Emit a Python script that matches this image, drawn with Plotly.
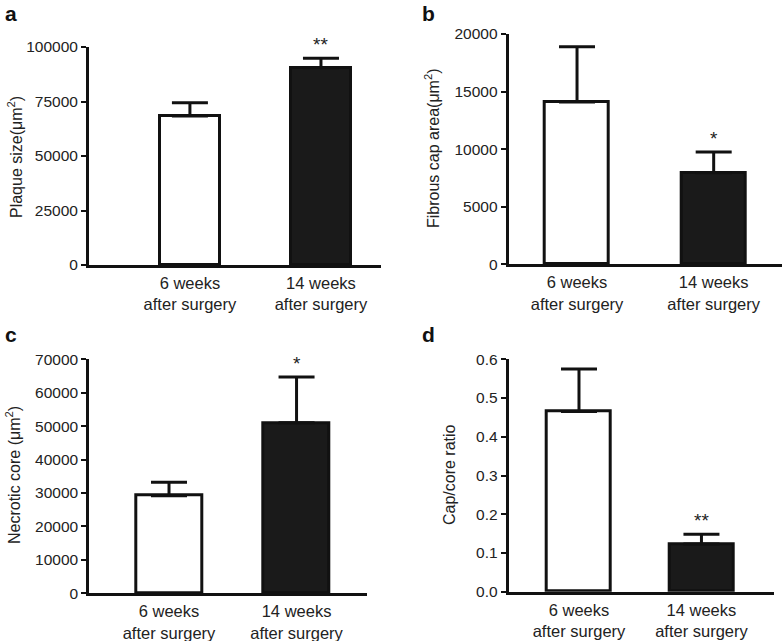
import plotly.graph_objects as go

categories = ["6 weeks<br>after surgery", "14 weeks<br>after surgery"]

plaque_mean = [68300, 90500]
plaque_err = [6100, 4300]
cap_mean = [14100, 7950]
cap_err = [4800, 1800]
core_mean = [29200, 51000]
core_err = [4000, 13700]
ratio_mean = [0.465, 0.123]
ratio_err = [0.11, 0.025]

stars = ["**", "*", "*", "**"]
ytitles = ["Plaque size(μm<sup>2</sup>)", "Fibrous cap area(μm<sup>2</sup>)",
           "Necrotic core (μm<sup>2</sup>)", "Cap/core ratio"]
letters = ["a", "b", "c", "d"]

FONT = "Liberation Sans, Arial, sans-serif"
TXT = "#222222"
W, H = 784, 641

panels = [
    dict(mean=plaque_mean, err=plaque_err, ymax=100000, dtick=25000, fmt="d",
         xd=[89/W, 381/W], yd=[1-265/H, 1-47/H], xr=[-0.77, 1.458], bw=0.46,
         tx=15, ty=157, lx=3, ly=14),
    dict(mean=cap_mean, err=cap_err, ymax=20000, dtick=5000, fmt="d",
         xd=[508.7/W, 782/W], yd=[1-264.3/H, 1-34/H], xr=[-0.5, 1.5], bw=0.47,
         tx=432, ty=148, lx=420, ly=14),
    dict(mean=core_mean, err=core_err, ymax=70000, dtick=10000, fmt="d",
         xd=[89.3/W, 366.7/W], yd=[1-593.3/H, 1-359.3/H], xr=[-0.625, 1.55], bw=0.52,
         tx=13, ty=475, lx=3, ly=334),
    dict(mean=ratio_mean, err=ratio_err, ymax=0.6, dtick=0.1, fmt=".1f",
         xd=[508.7/W, 773.7/W], yd=[1-591.7/H, 1-359.3/H], xr=[-0.574, 1.59], bw=0.52,
         tx=449, ty=475, lx=420, ly=334),
]

fig = go.Figure()
annotations = []
for i, p in enumerate(panels):
    n = "" if i == 0 else str(i + 1)
    xa, ya = "x" + n, "y" + n
    fig.add_trace(go.Bar(
        x=[0, 1], y=p["mean"], width=p["bw"], xaxis=xa, yaxis=ya,
        marker=dict(color=["white", "#1a1a1a"], line=dict(color="#111111", width=3)),
        error_y=dict(type="data", symmetric=False, array=p["err"], arrayminus=[0, 0],
                     color="#111111", thickness=3, width=18),
        showlegend=False, hoverinfo="skip"))
    fig.layout["xaxis" + n] = dict(
        domain=p["xd"], anchor=ya, range=p["xr"], tickvals=[0, 1], ticktext=categories,
        showline=True, linewidth=3, linecolor="#111111", ticks="outside", ticklen=1,
        tickcolor="rgba(0,0,0,0)", showgrid=False, zeroline=False, automargin=False,
        tickfont=dict(family=FONT, size=16.5, color=TXT), fixedrange=True)
    fig.layout["yaxis" + n] = dict(
        domain=p["yd"], anchor=xa, range=[0, p["ymax"]], dtick=p["dtick"], tick0=0,
        tickformat=p["fmt"], showline=True, linewidth=3, linecolor="#111111",
        ticks="outside", ticklen=5, tickwidth=2, tickcolor="#111111",
        showgrid=False, zeroline=False, automargin=False,
        tickfont=dict(family=FONT, size=15.5, color=TXT), fixedrange=True)
    # significance marker
    annotations.append(dict(
        x=1, y=p["mean"][1] + p["err"][1], xref=xa, yref=ya, text=stars[i],
        showarrow=False, yanchor="bottom", xanchor="center", yshift=1,
        font=dict(family=FONT, size=19, color=TXT)))
    # y title
    annotations.append(dict(
        x=p["tx"] / W, y=1 - p["ty"] / H, xref="paper", yref="paper", text=ytitles[i],
        textangle=-90, showarrow=False, xanchor="center", yanchor="middle",
        font=dict(family=FONT, size=16, color=TXT)))
    # panel letter
    annotations.append(dict(
        x=p["lx"] / W, y=1 - p["ly"] / H, xref="paper", yref="paper",
        text="<b>" + letters[i] + "</b>", showarrow=False, xanchor="left", yanchor="middle",
        font=dict(family=FONT, size=21, color="#111111")))

fig.update_layout(
    width=W, height=H, margin=dict(l=0, r=0, t=0, b=0, autoexpand=False),
    paper_bgcolor="white", plot_bgcolor="white",
    annotations=annotations, bargap=0)

fig.write_html("out.html", config={"displayModeBar": False},
               post_script="document.body.style.margin='0px';document.body.style.overflow='hidden';")
